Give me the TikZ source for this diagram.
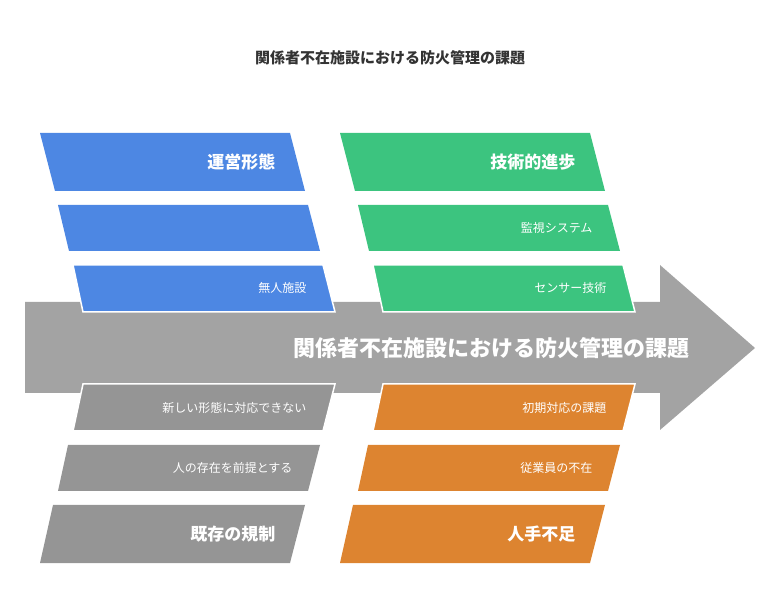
\documentclass[tikz,border=0pt]{standalone}
\usepackage{fontspec}
\setmainfont{Noto Sans CJK JP}
\usetikzlibrary{positioning,calc}
\definecolor{cblue}{HTML}{4D87E3}
\definecolor{cgreen}{HTML}{3CC47F}
\definecolor{cgray}{HTML}{959595}
\definecolor{corange}{HTML}{DD8430}
\definecolor{cspine}{HTML}{A3A3A3}
\definecolor{ctitle}{HTML}{333333}
% parallelogram: name, colour, top-left x, top-right x, bottom-left x, bottom-right x, top y, bottom y, label, style
\newcommand{\fishbox}[9]{%
  \fill[#2, draw=white, line width=1.5pt] (#3,#7) -- (#4,#7) -- (#6,#8) -- (#5,#8) -- cycle;
  \node[#9, anchor=east] (#1) at ({(#4+#6)/2-18},{(#7+#8)/2}) {};}
\begin{document}
\begin{tikzpicture}[x=1pt,y=-1pt,
  head/.style={text=white, font=\bfseries\fontsize{17}{20}\selectfont},
  item/.style={text=white, font=\fontsize{12}{14}\selectfont}]
\useasboundingbox (0,0) rectangle (780,612);
% Title
\node[text=ctitle, font=\bfseries\fontsize{15}{18}\selectfont] (title) at (390,58) {関係者不在施設における防火管理の課題};
% Spine
\fill[cspine] (25,302) -- (660,302) -- (660,265) -- (755,348) -- (660,430) -- (660,393) -- (25,393) -- cycle;
\node[text=white, font=\bfseries\fontsize{22}{26}\selectfont, anchor=east] (spine) at (693,348) {関係者不在施設における防火管理の課題};
% Upper left
\fill[cblue] (40,133) -- (290,133) -- (305,191) -- (55,191) -- cycle;
\node[head, anchor=east] (unei) at (279,162) {運営形態};
\fill[cblue] (58,205) -- (308,205) -- (320,251) -- (69,251) -- cycle;
\node (blank) at (190,228) {};
\fill[cblue, draw=white, line width=1.5pt] (73,265) -- (323,265) -- (335,312) -- (83,312) -- cycle;
\node[item, anchor=east] (mujin) at (310,288) {無人施設};
% Upper right
\fill[cgreen] (340,133) -- (590,133) -- (605,191) -- (355,191) -- cycle;
\node[head, anchor=east] (gijutsu) at (579,162) {技術的進歩};
\fill[cgreen] (358,205) -- (608,205) -- (620,251) -- (369,251) -- cycle;
\node[item, anchor=east] (kanshi) at (596,228) {監視システム};
\fill[cgreen, draw=white, line width=1.5pt] (373,265) -- (623,265) -- (635,312) -- (383,312) -- cycle;
\node[item, anchor=east] (sensor) at (610,288) {センサー技術};
% Lower left
\fill[cgray, draw=white, line width=1.5pt] (83,384) -- (335,384) -- (323,431) -- (73,431) -- cycle;
\node[item, anchor=east] (atarashii) at (310,408) {新しい形態に対応できない};
\fill[cgray] (68,445) -- (320,445) -- (308,491) -- (58,491) -- cycle;
\node[item, anchor=east] (zentei) at (296,468) {人の存在を前提とする};
\fill[cgray] (53,505) -- (305,505) -- (290,563) -- (40,563) -- cycle;
\node[head, anchor=east] (kisei) at (279,534) {既存の規制};
% Lower right
\fill[corange, draw=white, line width=1.5pt] (383,384) -- (635,384) -- (623,431) -- (373,431) -- cycle;
\node[item, anchor=east] (shoki) at (610,408) {初期対応の課題};
\fill[corange] (368,445) -- (620,445) -- (608,491) -- (358,491) -- cycle;
\node[item, anchor=east] (juugyouin) at (596,468) {従業員の不在};
\fill[corange] (353,505) -- (605,505) -- (590,563) -- (340,563) -- cycle;
\node[head, anchor=east] (hitode) at (579,534) {人手不足};
\end{tikzpicture}
\end{document}
